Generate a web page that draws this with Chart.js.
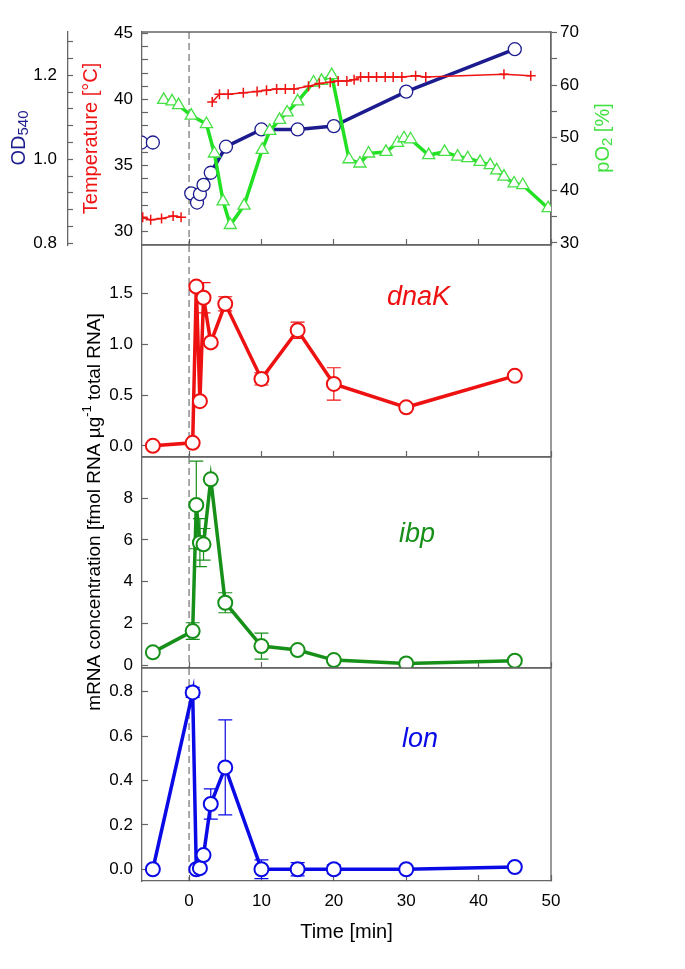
<!DOCTYPE html>
<html>
<head>
<meta charset="utf-8">
<script src="https://cdn.jsdelivr.net/npm/chart.js@4.4.0/dist/chart.umd.min.js"></script>
<style>
    html, body { margin: 0; padding: 0; background: #fff; }
    #wrap { position: relative; width: 685px; height: 969px; }
    #wrap canvas { position: absolute; left: 0; top: 0; }
</style>
</head>
<body>
<div id="wrap">
    <canvas id="topChart" width="685" height="969"></canvas>
    <canvas id="dnakChart" width="685" height="969"></canvas>
    <canvas id="ibpChart" width="685" height="969"></canvas>
    <canvas id="lonChart" width="685" height="969"></canvas>
</div>
<script>
// ---- data ----
const xTicks = [0, 10, 20, 30, 40, 50];
const odTicks = [0.8, 1.0, 1.2];
const tempTicks = [30, 35, 40, 45];
const po2Ticks = [30, 40, 50, 60, 70];
const dnaKTicks = [0, 0.5, 1.0, 1.5];
const ibpTicks = [0, 2, 4, 6, 8];
const lonTicks = [0, 0.2, 0.4, 0.6, 0.8];

// top panel: OD540, temperature, pO2 (null = gap in the line)
const odTime = [-6.6, -5.0, -2.0, 0.3, 1.1, 1.5, 2.0, 3.0, 5.1, 10, 15, 20, 30, 45];
const odValues = [1.04, 1.04, null, 0.919, 0.897, 0.917, 0.939, 0.968, 1.03, 1.071, 1.071, 1.079, 1.161, 1.262];

const tempTime = [-6.4, -5.3, -3.8, -2.2, -1.1, 1.0, 3.2, 4.2, 5.4, 7.5, 9.4, 10.7, 12.1, 13.3, 14.5, 16.5,
    18.0, 19.5, 20.6, 21.8, 22.8, 23.7, 24.8, 25.9, 27.1, 28.2, 29.4, 31.3, 32.7, 43.5, 47.2];
const tempValues = [31.1, 30.9, 31.0, 31.2, 31.1, null, 39.8, 40.4, 40.4, 40.5, 40.6, 40.7, 40.8, 40.8, 40.8, 41.0,
    41.2, 41.3, 41.4, 41.4, 41.5, 41.7, 41.7, 41.7, 41.7, 41.7, 41.7, 41.8, 41.7, 41.9, 41.8];

const po2Time = [-3.5, -2.35, -1.45, 0.3, 2.4, 3.5, 4.7, 5.7, 7.6, 10.1, 11.15, 12.5, 13.55, 15.0, 17.2, 18.3, 19.7,
    22.1, 23.6, 24.8, 27.2, 28.8, 29.7, 30.6, 33.1, 35.3, 37.1, 38.5, 40.2, 41.6, 42.5, 43.5, 44.9, 46.1, 49.6];
const po2Values = [57.2, 56.9, 56.2, 54.2, 52.6, 47.0, 37.9, 33.4, 37.1, 47.7, 51.3, 53.4, 54.8, 56.9, 60.5, 60.8, 61.9,
    45.9, 45.1, 47.0, 47.3, 49.0, 49.9, 49.7, 46.7, 47.3, 46.4, 46.1, 45.4, 44.8, 43.8, 42.6, 41.3, 41.0, 36.6];

// mRNA panels
const sampleTimes = [-5, 0.5, 1, 1.5, 2, 3, 5, 10, 15, 20, 30, 45];
const dnaKValues = [0.0, 0.03, 1.57, 0.44, 1.46, 1.02, 1.40, 0.66, 1.14, 0.61, 0.38, 0.69];
const dnaKErrors = [0, 0, 0, 0, 0.15, 0, 0.07, 0.06, 0.08, 0.16, 0, 0];
const ibpValues = [0.61, 1.63, 7.68, 5.87, 5.79, 8.91, 2.99, 0.91, 0.72, 0.24, 0.08, 0.21];
const ibpErrors = [0.15, 0.4, 2.1, 1.15, 0.76, 0, 0.48, 0.62, 0, 0, 0, 0];
const lonValues = [0.0, 0.797, 0.0, 0.005, 0.064, 0.294, 0.459, 0.0, 0.0, 0.0, 0.0, 0.01];
const lonErrors = [0, 0.023, 0, 0, 0, 0.068, 0.214, 0.042, 0.03, 0.02, 0, 0];

const AXIS = '#666';
const FONT = '"Liberation Sans", Arial, sans-serif';
Chart.defaults.font.family = FONT;
Chart.defaults.font.size = 17;
Chart.defaults.color = '#000';

const toPoints = (xs, ys) => xs.map((x, i) => ({x: x, y: ys[i]}));
const hasTick = (list, v) => list.some(t => Math.abs(t - v) < 1e-6);
function range(from, to, step) {
    const out = [];
    for (let v = from; v <= to + 1e-9; v += step) out.push(Math.round(v * 1000) / 1000);
    return out;
}

// dashed line at t = 0 and the top/right frame of each panel
const panelFrame = {
    id: 'panelFrame',
    beforeDatasetsDraw(chart) {
        const {ctx, chartArea: a, scales} = chart;
        const px = scales.x.getPixelForValue(0);
        ctx.save();
        ctx.strokeStyle = '#555';
        ctx.lineWidth = 1;
        ctx.setLineDash([7, 4]);
        ctx.beginPath();
        ctx.moveTo(px, a.top);
        ctx.lineTo(px, a.bottom);
        ctx.stroke();
        ctx.setLineDash([]);
        ctx.strokeStyle = AXIS;
        ctx.lineWidth = 1.3;
        ctx.beginPath();
        ctx.moveTo(a.left, a.top);
        ctx.lineTo(a.right, a.top);
        ctx.lineTo(a.right, a.bottom);
        ctx.stroke();
        ctx.restore();
    }
};

const errorBars = {
    id: 'errorBars',
    beforeDatasetsDraw(chart) {
        const {ctx} = chart;
        chart.data.datasets.forEach((ds, i) => {
            if (!ds.errors) return;
            const meta = chart.getDatasetMeta(i);
            const xs = chart.scales[meta.xAxisID];
            const ys = chart.scales[meta.yAxisID];
            ctx.save();
            ctx.strokeStyle = ds.borderColor;
            ctx.lineWidth = 1.2;
            ds.data.forEach((p, j) => {
                const e = ds.errors[j];
                if (!e) return;
                const px = xs.getPixelForValue(p.x);
                const y1 = ys.getPixelForValue(p.y + e);
                const y2 = ys.getPixelForValue(p.y - e);
                ctx.beginPath();
                ctx.moveTo(px, y1); ctx.lineTo(px, y2);
                ctx.moveTo(px - 7, y1); ctx.lineTo(px + 7, y1);
                ctx.moveTo(px - 7, y2); ctx.lineTo(px + 7, y2);
                ctx.stroke();
            });
            ctx.restore();
        });
    }
};

// italic gene name placed in data coordinates
const geneLabel = {
    id: 'geneLabel',
    afterDatasetsDraw(chart, args, opts) {
        if (!opts.text) return;
        const {ctx, scales} = chart;
        ctx.save();
        ctx.font = 'italic 27px ' + FONT;
        ctx.fillStyle = opts.color;
        ctx.textAlign = 'center';
        ctx.textBaseline = 'middle';
        ctx.fillText(opts.text, scales.x.getPixelForValue(opts.x), scales.y.getPixelForValue(opts.y));
        ctx.restore();
    }
};

// rotated titles that need sub/superscripts
const richTitles = {
    id: 'richTitles',
    afterDraw(chart, args, opts) {
        const {ctx} = chart;
        (opts.items || []).forEach(item => {
            ctx.save();
            ctx.translate(item.x, item.y);
            ctx.rotate(-Math.PI / 2);
            ctx.fillStyle = item.color;
            ctx.textBaseline = 'middle';
            ctx.textAlign = 'left';
            let total = 0;
            item.parts.forEach(p => {
                ctx.font = p.size + 'px ' + FONT;
                p.w = ctx.measureText(p.text).width;
                total += p.w;
            });
            let cx = -total / 2;
            item.parts.forEach(p => {
                ctx.font = p.size + 'px ' + FONT;
                ctx.fillText(p.text, cx, p.dy || 0);
                cx += p.w;
            });
            ctx.restore();
        });
    }
};

function xScale(showLabels) {
    return {
        type: 'linear',
        min: -6.5,
        max: 50,
        afterBuildTicks: s => { s.ticks = xTicks.map(v => ({value: v})); },
        afterFit: s => { s.height = showLabels ? 68 : 0; },
        grid: {drawOnChartArea: false, tickLength: -6, tickColor: AXIS, tickWidth: 1.2},
        border: {color: AXIS, width: 1.3},
        ticks: {display: showLabels, padding: 16, maxRotation: 0},
        title: {display: showLabels, text: 'Time [min]', font: {size: 20}, padding: {top: 0, bottom: 5}}
    };
}

function yScale(min, max, ticks, digits) {
    return {
        type: 'linear',
        position: 'left',
        min: min,
        max: max,
        afterBuildTicks: s => { s.ticks = ticks.map(v => ({value: v})); },
        afterFit: s => { s.width = 142; },
        grid: {drawOnChartArea: false, tickLength: -6, tickColor: AXIS, tickWidth: 1.2},
        border: {color: AXIS, width: 1.3},
        ticks: {padding: 15, callback: v => v.toFixed(digits)}
    };
}

function baseOptions(top, bottom, rightPad, xLabels) {
    const xh = xLabels ? 68 : 0;
    return {
        responsive: false,
        animation: false,
        events: [],
        layout: {padding: {top: top, bottom: 969 - bottom - xh, left: 0, right: rightPad}},
        plugins: {legend: {display: false}, tooltip: {enabled: false}}
    };
}

function genePanel(id, top, bottom, xLabels, color, values, errors, yOpts, label, extra) {
    const options = baseOptions(top, bottom, 134, xLabels);
    options.scales = {x: xScale(xLabels), y: yOpts};
    options.plugins.geneLabel = label;
    if (extra) options.plugins.richTitles = extra;
    new Chart(document.getElementById(id), {
        type: 'line',
        data: {
            datasets: [{
                data: toPoints(sampleTimes, values),
                errors: errors,
                borderColor: color,
                borderWidth: 3.5,
                pointRadius: 7,
                pointBorderWidth: 2,
                pointBackgroundColor: '#fff',
                pointBorderColor: color,
                tension: 0
            }]
        },
        options: options,
        plugins: [panelFrame, errorBars, geneLabel, richTitles]
    });
}

// ---- top panel ----
const NAVY = '#1c1c8e';
const TEMP_RED = '#ee1414';
const O2_GREEN = '#22e022';
const topOptions = baseOptions(32, 245, 74, false);
topOptions.scales = {
    x: xScale(false),
    yTemp: {
        type: 'linear', position: 'left', weight: 1, min: 29.0, max: 45.1,
        afterBuildTicks: s => { s.ticks = range(30, 45, 1).map(v => ({value: v})); },
        afterFit: s => { s.width = 74; },
        grid: {drawOnChartArea: false, tickLength: -6, tickColor: AXIS, tickWidth: 1.2},
        border: {color: AXIS, width: 1.3},
        ticks: {padding: 15, autoSkip: false, callback: v => hasTick(tempTicks, v) ? String(v) : ''},
        title: {display: true, text: 'Temperature [°C]', color: TEMP_RED, font: {size: 20}, padding: {top: 11, bottom: 0}}
    },
    yOD: {
        type: 'linear', position: 'left', weight: 2, min: 0.796, max: 1.303,
        afterBuildTicks: s => { s.ticks = range(0.8, 1.28, 0.04).map(v => ({value: v})); },
        afterFit: s => { s.width = 68; },
        grid: {drawOnChartArea: false, tickLength: -5, tickColor: AXIS, tickWidth: 1.2},
        border: {color: AXIS, width: 1.3},
        ticks: {padding: 16, autoSkip: false, callback: v => hasTick(odTicks, v) ? v.toFixed(1) : ''}
    },
    yPO2: {
        type: 'linear', position: 'right', min: 29.6, max: 70.1,
        afterBuildTicks: s => { s.ticks = range(30, 70, 5).map(v => ({value: v})); },
        afterFit: s => { s.width = 60; },
        grid: {drawOnChartArea: false, tickLength: 6, tickColor: AXIS, tickWidth: 1.2},
        border: {color: AXIS, width: 1.3},
        ticks: {padding: 3, autoSkip: false, callback: v => hasTick(po2Ticks, v) ? String(v) : ''}
    }
};
topOptions.plugins.richTitles = {
    items: [
        {x: 19, y: 138, color: NAVY, parts: [{text: 'OD', size: 20}, {text: '540', size: 15, dy: 5}]},
        {x: 603, y: 138, color: '#3fe03f', parts: [{text: 'pO', size: 20}, {text: '2', size: 15, dy: 5}, {text: ' [%]', size: 20}]}
    ]
};

new Chart(document.getElementById('topChart'), {
    type: 'line',
    data: {
        datasets: [{
            // Temperature
            data: toPoints(tempTime, tempValues),
            yAxisID: 'yTemp',
            borderColor: TEMP_RED,
            borderWidth: 1.5,
            pointStyle: 'cross',
            pointRadius: 5,
            pointBorderWidth: 1.5,
            pointBorderColor: TEMP_RED,
            tension: 0
        }, {
            // pO2
            data: toPoints(po2Time, po2Values),
            yAxisID: 'yPO2',
            borderColor: O2_GREEN,
            borderWidth: 3.5,
            pointStyle: 'triangle',
            pointRadius: 7,
            pointBorderWidth: 1.3,
            pointBackgroundColor: '#fff',
            pointBorderColor: '#44e044',
            tension: 0
        }, {
            // OD540
            data: toPoints(odTime, odValues),
            yAxisID: 'yOD',
            borderColor: NAVY,
            borderWidth: 3.5,
            pointRadius: 6.5,
            pointBorderWidth: 1.3,
            pointBackgroundColor: '#fff',
            pointBorderColor: NAVY,
            tension: 0
        }]
    },
    options: topOptions,
    plugins: [panelFrame, richTitles]
});

// ---- mRNA panels ----
genePanel('dnakChart', 245, 457, false, '#ee1111', dnaKValues, dnaKErrors,
    yScale(-0.11, 1.98, dnaKTicks, 1),
    {text: 'dnaK', x: 31.7, y: 1.46, color: '#ee1111'});

genePanel('ibpChart', 457, 668, false, '#17901a', ibpValues, ibpErrors,
    yScale(-0.14, 9.98, ibpTicks, 0),
    {text: 'ibp', x: 31.5, y: 6.24, color: '#17901a'},
    {items: [{x: 95, y: 512, color: '#000', parts: [
        {text: 'mRNA concentration [fmol RNA µg', size: 19},
        {text: '-1', size: 13, dy: -8},
        {text: ' total RNA]', size: 19}
    ]}]});

genePanel('lonChart', 668, 881, true, '#0a0ae6', lonValues, lonErrors,
    yScale(-0.053, 0.907, lonTicks, 1),
    {text: 'lon', x: 31.9, y: 0.587, color: '#0a0ae6'});
</script>
</body>
</html>
